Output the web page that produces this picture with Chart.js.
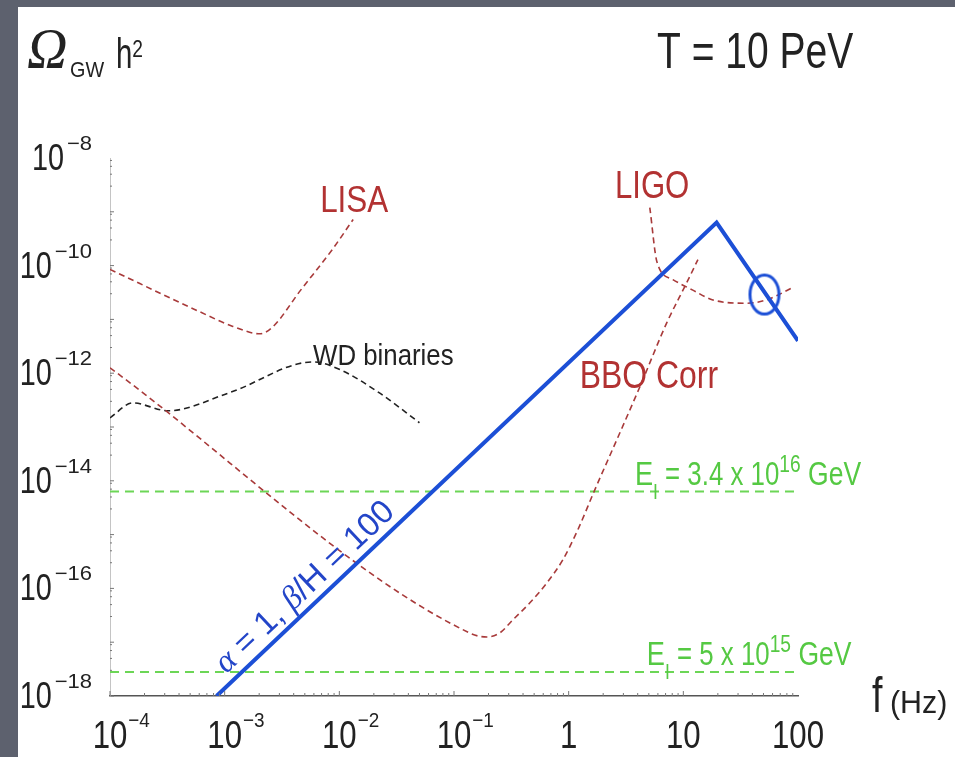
<!DOCTYPE html>
<html>
<head>
<meta charset="utf-8">
<script src="https://cdn.jsdelivr.net/npm/chart.js@4.4.1/dist/chart.umd.min.js"></script>
<style>
html, body { margin: 0; padding: 0; background: #5d616e; }
canvas { display: block; }
</style>
</head>
<body>
<canvas id="gwChart" width="955" height="757"></canvas>
<script>
// axes: frequency f (Hz) and Omega_GW h^2, both log
var xTicks = [1e-4, 1e-3, 1e-2, 1e-1, 1, 10, 100];
var xTickLabels = [['10', '−4'], ['10', '−3'], ['10', '−2'], ['10', '−1'], ['1', ''], ['10', ''], ['100', '']];
var yTicks = [1e-8, 1e-10, 1e-12, 1e-14, 1e-16, 1e-18];
var yTickLabels = [['10', '−8'], ['10', '−10'], ['10', '−12'], ['10', '−14'], ['10', '−16'], ['10', '−18']];

// LISA sensitivity
var lisaF = [1e-4, 6.0e-4, 1.18e-3, 2.03e-3, 2.6e-3, 4.6e-3, 8.7e-3, 1.32e-2];
var lisaO = [8.5e-11, 1.4e-11, 7.4e-12, 5.4e-12, 7.1e-12, 3.5e-11, 2.0e-10, 7.2e-10];

// white dwarf binaries foreground
var wdF = [1e-4, 1.58e-4, 3.2e-4, 1.12e-3, 5.9e-3, 1.01e-2, 2.2e-2, 5.0e-2];
var wdO = [1.48e-13, 2.8e-13, 2.0e-13, 4.4e-13, 1.62e-12, 1.17e-12, 4.4e-13, 1.2e-13];

// BBO correlated
var bboF = [1e-4, 0.138, 0.194, 0.251, 0.326, 0.459, 0.645, 0.889, 1.20, 1.69, 2.63, 4.18, 7.18, 10.7, 13.4];
var bboO = [1.26e-12, 1.47e-17, 1.25e-17, 1.49e-17, 2.6e-17, 5.4e-17, 1.26e-16, 3.4e-16, 1.22e-15, 6.8e-15, 5.8e-14, 5.6e-13, 8.7e-12, 4.8e-11, 1.29e-10];

// LIGO
var ligoF = [5.1, 5.9, 8.1, 12.1, 18.1, 35.7, 53, 90];
var ligoO = [1.2e-9, 1.15e-10, 5.5e-11, 3.5e-11, 2.3e-11, 2.0e-11, 2.3e-11, 3.9e-11];

// inflation scale lines (E_I = 3.4e16 GeV and 5e15 GeV)
var inflF = [1e-4, 100];
var inflHighO = [6.3e-15, 6.3e-15];
var inflLowO = [2.8e-18, 2.8e-18];

// phase transition spectrum alpha = 1, beta/H = 100
var bubbleF = [8.5e-4, 19.5, 100];
var bubbleO = [1e-18, 6.3e-10, 4.0e-12];

// circled point on the falling branch
var markF = [51];
var markO = [2.9e-11];

var SANS = "'Liberation Sans', Arial, sans-serif";
var SERIF = "'Liberation Serif', 'Times New Roman', serif";
var RED = '#a83a3a';
var RED_TEXT = '#b23232';
var GREEN = '#6cd656';
var GREEN_TEXT = '#55c943';
var BLUE = '#1c4fd6';

function pts(fs, os) {
    return fs.map(function (f, i) { return { x: f, y: os[i] }; });
}

// ellipse marker
var ring = document.createElement('canvas');
ring.width = 36;
ring.height = 46;
(function () {
    var c = ring.getContext('2d');
    c.strokeStyle = BLUE;
    c.lineWidth = 3;
    c.beginPath();
    c.ellipse(18, 23, 14.5, 19.5, 0, 0, Math.PI * 2);
    c.stroke();
})();

// draws pieces of text one after another, each with own font / raise / squeeze
function drawRuns(ctx, runs, x, y, color, rot) {
    ctx.save();
    ctx.translate(x, y);
    if (rot) ctx.rotate(rot);
    ctx.fillStyle = color;
    ctx.textBaseline = 'alphabetic';
    ctx.textAlign = 'left';
    var cx = 0;
    runs.forEach(function (r) {
        var sx = r.sx || 1;
        cx += r.dx || 0;
        ctx.font = r.font;
        ctx.save();
        ctx.translate(cx, r.dy || 0);
        ctx.scale(sx, 1);
        ctx.fillText(r.t, 0, 0);
        ctx.restore();
        cx += ctx.measureText(r.t).width * sx;
    });
    ctx.restore();
}

function runsWidth(ctx, runs) {
    var w = 0;
    runs.forEach(function (r) {
        ctx.font = r.font;
        w += ctx.measureText(r.t).width * (r.sx || 1) + (r.dx || 0);
    });
    return w;
}

function supLabel(base, sup, size, supSize, raise, sx, supSx, gap) {
    var r = [{ t: base, font: size + 'px ' + SANS, sx: sx }];
    if (sup) r.push({ t: sup, font: supSize + 'px ' + SANS, dy: -raise, sx: supSx, dx: gap });
    return r;
}

var gwPlugin = {
    id: 'gwDecor',
    beforeDraw: function (chart) {
        var c = chart.ctx;
        c.save();
        c.fillStyle = '#5d616e';
        c.fillRect(0, 0, chart.width, chart.height);
        c.fillStyle = '#ffffff';
        c.fillRect(18, 7, chart.width - 18, chart.height - 7);
        c.restore();
    },
    afterDatasetsDraw: function (chart) {
        var c = chart.ctx;
        var xs = chart.scales.x, ys = chart.scales.y;
        var area = chart.chartArea;

        // small inward tick marks
        c.save();
        c.strokeStyle = '#777';
        c.lineWidth = 1;
        for (var e = -4; e < 2; e++) {
            for (var m = 1; m < 10; m++) {
                var px = xs.getPixelForValue(m * Math.pow(10, e));
                var len = m === 1 ? 5 : 3;
                c.beginPath();
                c.moveTo(px, area.bottom);
                c.lineTo(px, area.bottom - len);
                c.stroke();
            }
        }
        for (var e2 = -18; e2 < -8; e2++) {
            for (var m2 = 1; m2 < 10; m2 += 2) {
                var py = ys.getPixelForValue(m2 * Math.pow(10, e2));
                c.beginPath();
                c.moveTo(area.left, py);
                c.lineTo(area.left + (m2 === 1 ? 4 : 2), py);
                c.stroke();
            }
        }
        c.restore();

        // tick labels
        xTicks.forEach(function (v, i) {
            var lab = xTickLabels[i];
            var runs = supLabel(lab[0], lab[1], 38, 21, 21, 0.82, 0.9, 1);
            var baseW = runsWidth(c, [runs[0]]);
            drawRuns(c, runs, xs.getPixelForValue(v) - baseW / 2, area.bottom + 52, '#222');
        });
        yTicks.forEach(function (v, i) {
            var lab = yTickLabels[i];
            var runs = supLabel(lab[0], lab[1], 36, 20, 20, 0.8, 1.1, 3);
            var w = runsWidth(c, runs);
            drawRuns(c, runs, area.left - 18 - w, ys.getPixelForValue(v) + 12, '#222');
        });

        // title and axis names
        drawRuns(c, [{ t: 'Ω', font: 'italic 56px ' + SERIF }], 27, 68, '#222');
        drawRuns(c, [{ t: 'GW', font: '22px ' + SANS, sx: 0.9 }], 70, 77, '#222');
        drawRuns(c, [{ t: 'h', font: '42px ' + SANS, sx: 0.7 }, { t: '2', font: '24px ' + SANS, dy: -11, sx: 0.8 }], 116, 68, '#222');
        drawRuns(c, [{ t: 'T = 10 PeV', font: '50px ' + SANS, sx: 0.78 }], 657, 68, '#222');
        drawRuns(c, [{ t: 'f', font: '50px ' + SANS, sx: 0.75 }], 872, 712, '#222');
        drawRuns(c, [{ t: '(Hz)', font: '32px ' + SANS, sx: 0.95 }], 890, 713, '#222');

        // curve names, anchored in data space
        function at(f, o) { return [xs.getPixelForValue(f), ys.getPixelForValue(o)]; }
        var p;
        p = at(6.8e-3, 1.0e-9);
        drawRuns(c, [{ t: 'LISA', font: '37px ' + SANS, sx: 0.85 }], p[0], p[1], RED_TEXT);
        p = at(2.53, 1.84e-9);
        drawRuns(c, [{ t: 'LIGO', font: '38px ' + SANS, sx: 0.82 }], p[0], p[1], RED_TEXT);
        p = at(1.25, 5.4e-13);
        drawRuns(c, [{ t: 'BBO Corr', font: '38px ' + SANS, sx: 0.84 }], p[0], p[1], RED_TEXT);
        p = at(5.9e-3, 1.45e-12);
        drawRuns(c, [{ t: 'WD binaries', font: '30px ' + SANS, sx: 0.86 }], p[0], p[1], '#222');

        p = at(3.78, 8.5e-15);
        drawRuns(c, [
            { t: 'E', font: '34px ' + SANS, sx: 0.8 },
            { t: 'I', font: '22px ' + SANS, dy: 14, sx: 0.8 },
            { t: ' = 3.4 x 10', font: '34px ' + SANS, sx: 0.76 },
            { t: '16', font: '24px ' + SANS, dy: -13, sx: 0.8 },
            { t: ' GeV', font: '34px ' + SANS, sx: 0.78 }
        ], p[0], p[1], GREEN_TEXT);
        p = at(4.8, 3.8e-18);
        drawRuns(c, [
            { t: 'E', font: '34px ' + SANS, sx: 0.8 },
            { t: 'I', font: '22px ' + SANS, dy: 14, sx: 0.8 },
            { t: ' = 5 x 10', font: '34px ' + SANS, sx: 0.76 },
            { t: '15', font: '24px ' + SANS, dy: -13, sx: 0.8 },
            { t: ' GeV', font: '34px ' + SANS, sx: 0.78 }
        ], p[0], p[1], GREEN_TEXT);

        // label written along the rising blue line
        var a = at(bubbleF[0], bubbleO[0]);
        var b = at(bubbleF[1], bubbleO[1]);
        var dx = b[0] - a[0], dy = b[1] - a[1];
        var L = Math.sqrt(dx * dx + dy * dy);
        var ux = dx / L, uy = dy / L;
        var along = 22, off = 9;
        drawRuns(c, [
            { t: 'α', font: 'italic 33px ' + SERIF },
            { t: ' = 1, ', font: '33px ' + SANS },
            { t: 'β', font: 'italic 33px ' + SERIF },
            { t: '/H = 100', font: '33px ' + SANS }
        ], a[0] + ux * along + uy * off, a[1] + uy * along - ux * off, '#2345c8', Math.atan2(dy, dx));
    }
};

function lineSet(label, fs, os, color, width, dash, order, smooth) {
    return {
        label: label,
        data: pts(fs, os),
        showLine: true,
        pointRadius: 0,
        fill: false,
        cubicInterpolationMode: smooth ? 'monotone' : 'default',
        tension: 0,
        borderColor: color,
        borderWidth: width,
        borderDash: dash,
        order: order
    };
}

var ctx = document.getElementById('gwChart').getContext('2d');
var gwChart = new Chart(ctx, {
    type: 'scatter',
    data: {
        datasets: [
            lineSet('bubbles', bubbleF, bubbleO, BLUE, 4, [], 0, false),
            {
                label: 'marker',
                data: pts(markF, markO),
                pointStyle: ring,
                pointRadius: 17,
                showLine: false,
                order: 1
            },
            lineSet('LIGO', ligoF, ligoO, RED, 1.6, [6, 4], 2, true),
            lineSet('BBO Corr', bboF, bboO, RED, 1.6, [6, 4], 3, true),
            lineSet('LISA', lisaF, lisaO, RED, 1.6, [6, 4], 4, true),
            lineSet('WD binaries', wdF, wdO, '#222', 1.6, [6, 4], 5, true),
            lineSet('E_I high', inflF, inflHighO, GREEN, 2, [9, 6], 6, false),
            lineSet('E_I low', inflF, inflLowO, GREEN, 2, [9, 6], 7, false)
        ]
    },
    options: {
        responsive: false,
        animation: false,
        layout: {
            padding: { left: 110, right: 157, top: 158, bottom: 61 }
        },
        plugins: {
            legend: { display: false },
            tooltip: { enabled: false }
        },
        scales: {
            x: {
                type: 'logarithmic',
                min: 1e-4,
                max: 100,
                ticks: { display: false },
                grid: { drawOnChartArea: false, drawTicks: false },
                border: { color: '#555', width: 1.5 },
                afterFit: function (scale) { scale.height = 0; }
            },
            y: {
                type: 'logarithmic',
                min: 1e-18,
                max: 1e-8,
                ticks: { display: false },
                grid: { drawOnChartArea: false, drawTicks: false },
                border: { color: '#c4c4c4', width: 1 },
                afterFit: function (scale) { scale.width = 0; }
            }
        }
    },
    plugins: [gwPlugin]
});
</script>
</body>
</html>
